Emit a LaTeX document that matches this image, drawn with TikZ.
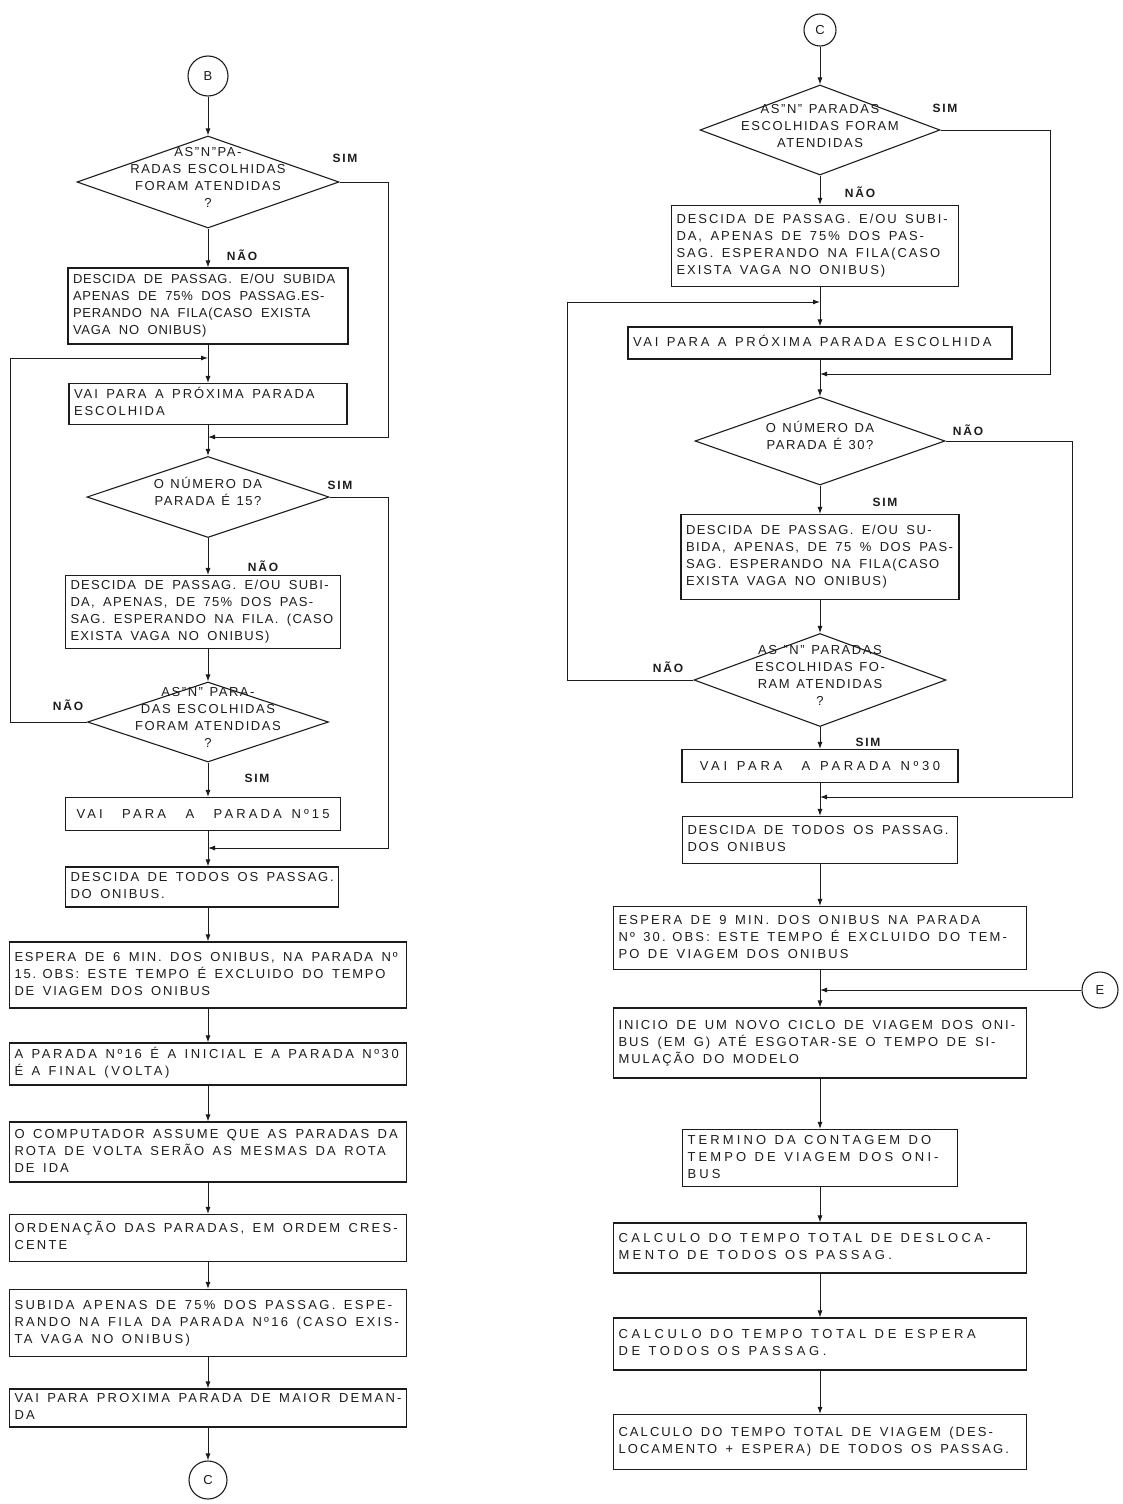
\documentclass[tikz,border=0pt]{standalone}
\usepackage{fontspec}
\setmainfont{Liberation Sans}
\definecolor{ink}{RGB}{28, 28, 28}
\usetikzlibrary{shapes.geometric, arrows.meta}
\newcommand{\btext}[1]{\spaceskip=0.65em\relax
    \begin{tabular}{@{}l@{}}#1\end{tabular}}
\newcommand{\dtext}[1]{\spaceskip=0.5em\relax
    \makebox[0pt]{\smash{\begin{tabular}{@{}c@{}}#1\end{tabular}}}}
\tikzset{
    track/.style={font={\fontsize{13}{17}\selectfont
        \addfontfeature{LetterSpace=#1}\spaceskip=0.75em\relax}},
    procbox/.style={draw=ink, text=ink, line width=1.1pt, rectangle, track=10,
        align=left, inner xsep=5pt, inner ysep=2pt},
    pbox/.style 2 args={procbox, text width=#1, minimum height=#2},
    decision/.style 2 args={draw=ink, text=ink, line width=1.1pt, diamond,
        track=12, inner sep=0pt, minimum width=#1, minimum height=#2},
    offpage/.style={draw=ink, text=ink, line width=1.1pt, circle, track=0,
        inner sep=0pt, minimum size=#1},
    flow/.style={draw=ink, line width=0.9pt, -{Latex[length=7pt, width=5pt]}},
    tag/.style={text=ink,
        font=\bfseries\fontsize{12}{14}\selectfont\addfontfeature{LetterSpace=15}},
}

\begin{document}
\begin{tikzpicture}[x=1pt, y=-1pt]
    \useasboundingbox (0,0) rectangle (1122,1504);
    % left column
    \coordinate (loopL) at (10,0);
    \coordinate (sideL) at (388,0);
    \coordinate (j1) at (208,358);
    \coordinate (j2) at (208,437);
    \coordinate (j3) at (208,848);
    \node[offpage=40pt] (cB) at (208,76) {B};
    \node[decision={262pt}{92pt}] (d1) at (208,182)
        {\dtext{AS"N"PA-\\RADAS ESCOLHIDAS\\FORAM ATENDIDAS\\?}};
    \node[pbox={270pt}{76pt}, track=6] (b1) at (208,306)
        {\btext{DESCIDA DE PASSAG. E/OU SUBIDA\\APENAS DE 75\% DOS PASSAG.ES-\\
        PERANDO NA FILA(CASO EXISTA\\VAGA NO ONIBUS)}};
    \node[pbox={268pt}{41pt}, track=15] (b2) at (208,404)
        {\btext{VAI PARA A PRÓXIMA PARADA\\ESCOLHIDA}};
    \node[decision={242pt}{81pt}] (d2) at (208,497)
        {\dtext{O NÚMERO DA\\PARADA É 15?}};
    \node[pbox={265pt}{73pt}, track=10] (b3) at (203,612)
        {\btext{DESCIDA DE PASSAG. E/OU SUBI-\\DA, APENAS, DE 75\% DOS PAS-\\
        SAG. ESPERANDO NA FILA. (CASO\\EXISTA VAGA NO ONIBUS)}};
    \node[decision={241pt}{80pt}] (d3) at (208,722)
        {\dtext{AS"N" PARA-\\DAS ESCOLHIDAS\\FORAM ATENDIDAS\\?}};
    \node[procbox, track=24, minimum width=275pt, minimum height=33pt] (b4)
        at (203,814) {VAI\ \ PARA\ \ A\ \ PARADA Nº15};
    \node[pbox={263pt}{40pt}, track=14] (b5) at (202,887)
        {\btext{DESCIDA DE TODOS OS PASSAG.\\DO ONIBUS.}};
    \node[pbox={387pt}{66pt}, track=14] (b6) at (208,975)
        {\btext{ESPERA DE 6 MIN. DOS ONIBUS, NA PARADA Nº\\
        15. OBS: ESTE TEMPO É EXCLUIDO DO TEMPO\\DE VIAGEM DOS ONIBUS}};
    \node[pbox={387pt}{42pt}, track=20] (b7) at (208,1064)
        {\btext{A PARADA Nº16 É A INICIAL E A PARADA Nº30\\É A FINAL (VOLTA)}};
    \node[pbox={387pt}{60pt}, track=16] (b8) at (208,1152)
        {\btext{O COMPUTADOR ASSUME QUE AS PARADAS DA\\
        ROTA DE VOLTA SERÃO AS MESMAS DA ROTA\\DE IDA}};
    \node[pbox={387pt}{47pt}, track=17] (b9) at (208,1238)
        {\btext{ORDENAÇÃO DAS PARADAS, EM ORDEM CRES-\\CENTE}};
    \node[pbox={387pt}{67pt}, track=18] (b10) at (208,1323)
        {\btext{SUBIDA APENAS DE 75\% DOS PASSAG. ESPE-\\
        RANDO NA FILA DA PARADA Nº16 (CASO EXIS-\\TA VAGA NO ONIBUS)}};
    \node[pbox={387pt}{37pt}, track=17] (b11) at (208,1408)
        {\btext{VAI PARA PROXIMA PARADA DE MAIOR DEMAN-\\DA}};
    \node[offpage=38pt] (cC2) at (208,1480) {C};
    \draw[flow] (cB) -- (d1);
    \draw[flow] (d1) -- (b1);
    \draw[flow] (d1.east) -- (d1.east -| sideL) |- (j2); % SIM
    \draw[flow] (b1) -- (b2);
    \draw[flow] (b2) -- (d2);
    \draw[flow] (d2) -- (d2 |- b3.north);
    \draw[flow] (d2.east) -- (d2.east -| sideL) |- (j3); % SIM
    \draw[flow] (d3 |- b3.south) -- (d3);
    \draw[flow] (d3.west) -- (d3.west -| loopL) |- (j1); % NAO, back up
    \draw[flow] (d3) -- (d3 |- b4.north);
    \draw[flow] (j3 |- b4.south) -- (j3 |- b5.north);
    \draw[flow] (j3 |- b5.south) -- (b6);
    \foreach \a/\b in {b6/b7, b7/b8, b8/b9, b9/b10, b10/b11, b11/cC2}
        \draw[flow] (\a) -- (\b);

    % right column
    \coordinate (loopR) at (567,0);
    \coordinate (sideR1) at (1050,0);
    \coordinate (sideR2) at (1072,0);
    \coordinate (k1) at (820,302);
    \coordinate (k2) at (820,374);
    \coordinate (k3) at (820,797);
    \coordinate (k4) at (820,990);
    \node[offpage=32pt] (cC) at (820,30) {C};
    \node[decision={240pt}{90pt}] (d4) at (820,130)
        {\dtext{AS"N" PARADAS\\ESCOLHIDAS FORAM\\ATENDIDAS}};
    \node[pbox={277pt}{81pt}, track=15] (c1) at (815,246)
        {\btext{DESCIDA DE PASSAG. E/OU SUBI-\\DA, APENAS DE 75\% DOS PAS-\\
        SAG. ESPERANDO NA FILA(CASO\\EXISTA VAGA NO ONIBUS)}};
    \node[pbox={374pt}{32pt}, track=21] (c2) at (820,343)
        {\btext{VAI PARA A PRÓXIMA PARADA ESCOLHIDA}};
    \node[decision={250pt}{88pt}] (d5) at (820,441)
        {\dtext{O NÚMERO DA\\PARADA É 30?}};
    \node[pbox={268pt}{85pt}, track=11] (c3) at (820,557)
        {\btext{DESCIDA DE PASSAG. E/OU SU-\\BIDA, APENAS, DE 75 \% DOS PAS-\\
        SAG. ESPERANDO NA FILA(CASO\\EXISTA VAGA NO ONIBUS)}};
    \node[decision={252pt}{93pt}] (d6) at (820,680)
        {\dtext{AS "N" PARADAS\\ESCOLHIDAS FO-\\RAM ATENDIDAS\\?}};
    \node[procbox, track=28, minimum width=276pt, minimum height=33pt] (c4)
        at (820,766) {VAI PARA\ \ A PARADA Nº30};
    \node[pbox={265pt}{47pt}, track=13] (c5) at (820,840)
        {\btext{DESCIDA DE TODOS OS PASSAG.\\DOS ONIBUS}};
    \node[pbox={403pt}{63pt}, track=17] (c6) at (820,938)
        {\btext{ESPERA DE 9 MIN. DOS ONIBUS NA PARADA\\
        Nº 30. OBS: ESTE TEMPO É EXCLUIDO DO TEM-\\PO DE VIAGEM DOS ONIBUS}};
    \node[offpage=36pt] (cE) at (1100,990) {E};
    \node[pbox={403pt}{70pt}, track=15] (c7) at (820,1043)
        {\btext{INICIO DE UM NOVO CICLO DE VIAGEM DOS ONI-\\
        BUS (EM G) ATÉ ESGOTAR-SE O TEMPO DE SI-\\MULAÇÃO DO MODELO}};
    \node[pbox={265pt}{57pt}, track=24] (c8) at (820,1158)
        {\btext{TERMINO DA CONTAGEM DO\\TEMPO DE VIAGEM DOS ONI-\\BUS}};
    \node[pbox={403pt}{50pt}, track=26] (c9) at (820,1248)
        {\btext{CALCULO DO TEMPO TOTAL DE DESLOCA-\\MENTO DE TODOS OS PASSAG.}};
    \node[pbox={403pt}{52pt}, track=28] (c10) at (820,1344)
        {\btext{CALCULO DO TEMPO TOTAL DE ESPERA\\DE TODOS OS PASSAG.}};
    \node[pbox={403pt}{55pt}, track=16] (c11) at (820,1442)
        {\btext{CALCULO DO TEMPO TOTAL DE VIAGEM (DES-\\
        LOCAMENTO + ESPERA) DE TODOS OS PASSAG.}};
    \draw[flow] (cC) -- (d4);
    \draw[flow] (d4) -- (d4 |- c1.north);
    \draw[flow] (d4.east) -- (d4.east -| sideR1) |- (k2); % SIM
    \draw[flow] (k1 |- c1.south) -- (c2);
    \draw[flow] (c2) -- (d5);
    \draw[flow] (d5.east) -- (d5.east -| sideR2) |- (k3); % NAO
    \draw[flow] (d5) -- (c3);
    \draw[flow] (c3) -- (d6);
    \draw[flow] (d6.west) -- (d6.west -| loopR) |- (k1); % NAO, back up
    \draw[flow] (d6) -- (c4);
    \foreach \a/\b in {c4/c5, c5/c6, c6/c7, c7/c8, c8/c9, c9/c10, c10/c11}
        \draw[flow] (\a) -- (\b);
    \draw[flow] (cE) -- (k4);

    \begin{scope}[every node/.style={tag}]
        \node (simA) at (345,158) {SIM};
        \node (naoA) at (242,255) {NÃO};
        \node (simB) at (340,485) {SIM};
        \node (naoB) at (263,566) {NÃO};
        \node (naoC) at (68,705) {NÃO};
        \node (simC) at (257,778) {SIM};
        \node (simD) at (945,108) {SIM};
        \node (naoD) at (860,192) {NÃO};
        \node (naoE) at (968,430) {NÃO};
        \node (simE) at (885,502) {SIM};
        \node (naoF) at (668,667) {NÃO};
        \node (simF) at (868,742) {SIM};
    \end{scope}
\end{tikzpicture}
\end{document}
